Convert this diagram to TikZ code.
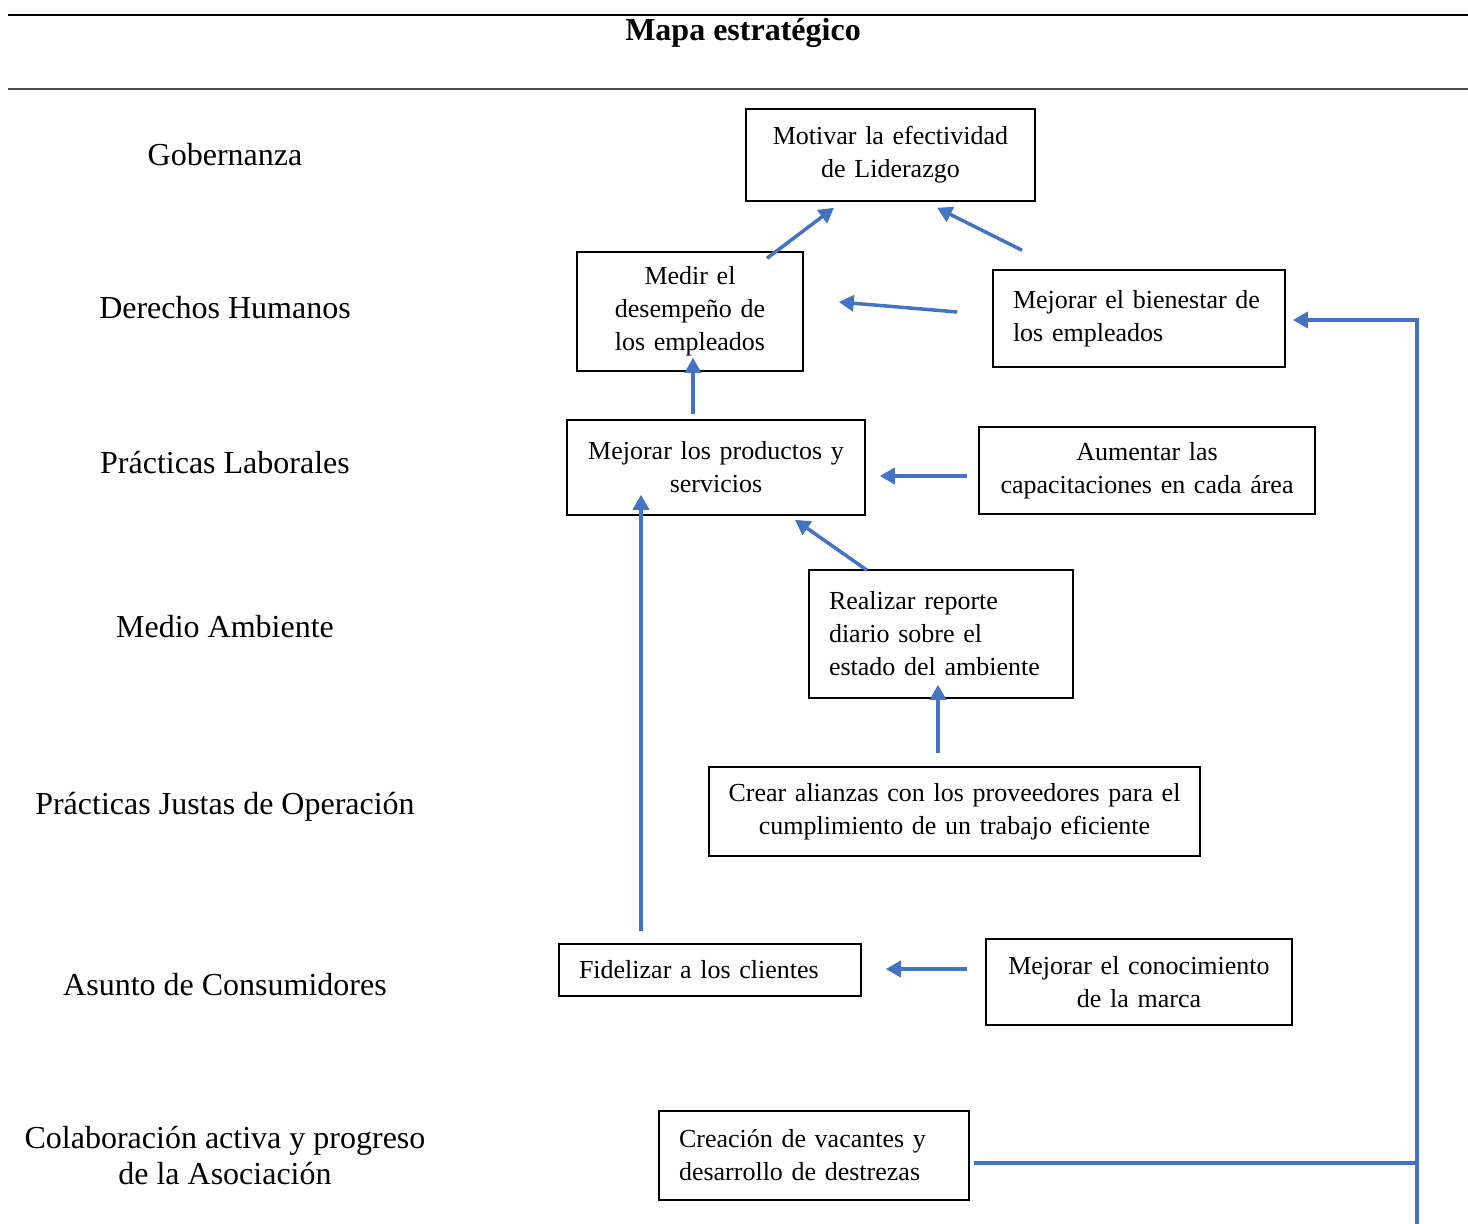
\documentclass[tikz,border=0pt]{standalone}
\usepackage{fontspec}
\setmainfont{Liberation Serif}
\usetikzlibrary{arrows.meta,calc}
\definecolor{arrblue}{HTML}{4472C4}
\begin{document}
\begin{tikzpicture}[x=1pt,y=-1pt,
  box/.style={draw, line width=1.5pt, inner ysep=0pt, font=\fontsize{26}{33}\selectfont},
  cbox/.style={box, align=center, inner xsep=5pt},
  lbox/.style={box, align=left, inner xsep=20pt},
  lab/.style={align=center, inner sep=0pt, font=\fontsize{32}{36}\selectfont},
  arr/.style={draw=arrblue, line width=3.5pt, -{Triangle[length=15pt,width=16pt]}},
  bline/.style={draw=arrblue, line width=3.5pt}]
\useasboundingbox (0,0) rectangle (1468,1224);
% header rules and title
\draw[line width=2.5pt] (8,15) -- (1468,15);
\draw[line width=1.2pt, black!70] (8,89) -- (1468,89);
\node[inner sep=0pt, font=\fontsize{32}{36}\selectfont\bfseries] (title) at (743,33) {Mapa estratégico};
% row labels
\node[lab] (gob) at (225,155) {Gobernanza};
\node[lab] (dh) at (225,308) {Derechos Humanos};
\node[lab] (pl) at (225,463) {Prácticas Laborales};
\node[lab] (ma) at (225,627) {Medio Ambiente};
\node[lab] (pjo) at (225,807) {Prácticas Justas de Operación};
\node[lab] (ac) at (225,985) {Asunto de Consumidores};
\node[lab] (cap) at (225,1156) {Colaboración activa y progreso\\de la Asociación};
% boxes
\node[cbox, minimum width=289pt, minimum height=92pt, text width=279pt] (motivar) at (890.5,155) {Motivar la efectividad\\de Liderazgo};
\node[cbox, minimum width=226pt, minimum height=119pt, text width=216pt] (medir) at (690,311.5) {Medir el\\desempeño de\\los empleados};
\node[lbox, minimum width=292pt, minimum height=97pt, text width=252pt] (bienestar) at (1139,318.5) {Mejorar el bienestar de\\los empleados};
\node[cbox, minimum width=298pt, minimum height=95pt, text width=288pt] (productos) at (716,467.5) {Mejorar los productos y\\servicios};
\node[cbox, minimum width=336pt, minimum height=87pt, text width=326pt] (aumentar) at (1147,470.5) {Aumentar las\\capacitaciones en cada área};
\node[lbox, minimum width=264pt, minimum height=128pt, text width=224pt] (realizar) at (941,634) {Realizar reporte\\diario sobre el\\estado del ambiente};
\node[cbox, minimum width=491pt, minimum height=89pt, text width=481pt] (crear) at (954.5,811.5) {Crear alianzas con los proveedores para el\\cumplimiento de un trabajo eficiente};
\node[lbox, minimum width=302pt, minimum height=52pt, text width=262pt] (fidelizar) at (710,970) {Fidelizar a los clientes};
\node[cbox, minimum width=306pt, minimum height=86pt, text width=296pt] (conoc) at (1139,982) {Mejorar el conocimiento\\de la marca};
\node[lbox, minimum width=310pt, minimum height=89pt, text width=270pt] (creacion) at (814,1155.5) {Creación de vacantes y\\desarrollo de destrezas};
% connectors
\draw[arr] ([shift={(77,7)}]medir.north) -- ([shift={(-56.5,6)}]motivar.south);
\draw[arr] ([shift={(-117,-19)}]bienestar.north) -- ([shift={(46.5,6)}]motivar.south);
\draw[arr] ([shift={(-35,-6.5)}]bienestar.west) -- ([shift={(35,-9.5)}]medir.east);
\draw[arr] ([shift={(-23,-5)}]productos.north) -- ([shift={(3,-14)}]medir.south);
\draw[arr] ([shift={(-11,5.5)}]aumentar.west) -- ([shift={(14,8.5)}]productos.east);
\draw[arr] ([shift={(-74,1)}]realizar.north) -- ([shift={(79,4)}]productos.south);
\draw[arr] ([shift={(-16.5,-13)}]crear.north) -- ([shift={(-3,-14)}]realizar.south);
\draw[arr] ([shift={(-69,-12)}]fidelizar.north) -- ([shift={(-75,-21)}]productos.south);
\draw[arr] ([shift={(-18,-13)}]conoc.west) -- ([shift={(24,-1)}]fidelizar.east);
\coordinate (junction) at (1417,1163);
\coordinate (bend) at (1417,320);
\coordinate (bottom) at (1417,1224);
\draw[bline] ([shift={(4,7.5)}]creacion.east) -- (junction);
\draw[arr] (bottom) -- (bend) -- ([shift={(7,1.5)}]bienestar.east);
\end{tikzpicture}
\end{document}
